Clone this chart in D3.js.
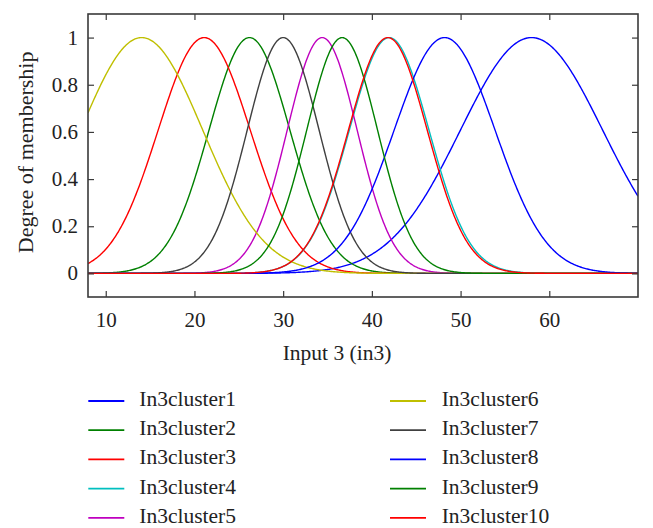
<!DOCTYPE html>
<html>
<head>
<meta charset="utf-8">
<script src="https://cdn.jsdelivr.net/npm/d3@7"></script>
<style>
  html, body { margin: 0; padding: 0; background: #fff; }
  svg { display: block; }
  text { font-family: "Liberation Serif", "DejaVu Serif", serif; fill: #222; }
</style>
</head>
<body>
<svg id="chart" width="653" height="528"></svg>
<script>
// ---- Data (Gaussian membership functions) ----
const seriesNames = ["In3cluster1","In3cluster2","In3cluster3","In3cluster4","In3cluster5",
                     "In3cluster6","In3cluster7","In3cluster8","In3cluster9","In3cluster10"];
const centers = [58.0, 26.2, 21.1, 41.95, 34.4, 14.05, 30.0, 48.2, 36.65, 41.8];
const sigmas  = [8.03, 4.57, 5.2, 4.5, 3.95, 6.9, 4.06, 5.7, 4.0, 4.45];
const colors  = ["#0000ff","#008000","#ff0000","#00bfbf","#bf00bf",
                 "#bfbf00","#404040","#0000ff","#008000","#ff0000"];
const xDomain = [8, 70];
const yDomain = [-0.1, 1.1];
const xTicks = [10, 20, 30, 40, 50, 60];
const yTicks = [0, 0.2, 0.4, 0.6, 0.8, 1];
const yTickLabels = ["0", "0.2", "0.4", "0.6", "0.8", "1"];
const xLabel = "Input 3 (in3)";
const yLabel = "Degree of membership";

// ---- Layout ----
const svg = d3.select("#chart");
const L = 88, R = 638, T = 14, B = 297;
const x = d3.scaleLinear().domain(xDomain).range([L, R]);
const y = d3.scaleLinear().domain(yDomain).range([B, T]);

const gauss = (v, c, s) => Math.exp(-((v - c) * (v - c)) / (2 * s * s));
const samples = d3.range(xDomain[0], xDomain[1] + 0.0001, 0.1);

svg.append("defs").append("clipPath").attr("id", "plotclip")
  .append("rect").attr("x", L).attr("y", T).attr("width", R - L).attr("height", B - T);

const line = d3.line().x(d => x(d[0])).y(d => y(d[1]));
const curves = svg.append("g").attr("clip-path", "url(#plotclip)");
seriesNames.forEach((name, i) => {
  const pts = samples.map(v => [v, gauss(v, centers[i], sigmas[i])]);
  curves.append("path")
    .attr("d", line(pts))
    .attr("fill", "none")
    .attr("stroke", colors[i])
    .attr("stroke-width", 1.4);
});

// ---- Frame and inward ticks ----
const frameColor = "#3a3a3a";
const tickLen = 6;
const axB = svg.append("g").attr("transform", `translate(0,${B})`)
  .call(d3.axisBottom(x).tickValues(xTicks).tickSizeInner(-tickLen).tickSizeOuter(0));
const axT = svg.append("g").attr("transform", `translate(0,${T})`)
  .call(d3.axisTop(x).tickValues(xTicks).tickSizeInner(-tickLen).tickSizeOuter(0).tickFormat(""));
const axL = svg.append("g").attr("transform", `translate(${L},0)`)
  .call(d3.axisLeft(y).tickValues(yTicks).tickSizeInner(-tickLen).tickSizeOuter(0)
        .tickFormat((d, i) => yTickLabels[i]));
const axR = svg.append("g").attr("transform", `translate(${R},0)`)
  .call(d3.axisRight(y).tickValues(yTicks).tickSizeInner(-tickLen).tickSizeOuter(0).tickFormat(""));

[axB, axT, axL, axR].forEach(g => {
  g.attr("font-family", null).attr("font-size", null);
  g.select(".domain").remove();
  g.selectAll(".tick line").attr("stroke", frameColor).attr("stroke-width", 1.2);
  g.selectAll("text").attr("font-size", 21).attr("fill", "#222");
});
axL.selectAll("text").attr("x", -10).attr("dy", null).attr("y", 6.5);
axB.selectAll("text").attr("dy", null).attr("y", 30);

svg.append("rect")
  .attr("x", L).attr("y", T).attr("width", R - L).attr("height", B - T)
  .attr("fill", "none").attr("stroke", frameColor).attr("stroke-width", 1.6);

// ---- Axis titles ----
svg.append("text")
  .attr("x", 337).attr("y", 360)
  .attr("text-anchor", "middle").attr("font-size", 21.5)
  .text(xLabel);
svg.append("text")
  .attr("transform", "translate(33,152.4) rotate(-90)")
  .attr("text-anchor", "middle").attr("font-size", 22)
  .text(yLabel);

// ---- Legend ----
const legend = svg.append("g");
const colLineX = [88.3, 390];
const colTextX = [139.3, 441.7];
const rowY0 = 401, rowStep = 29.2;
seriesNames.forEach((name, i) => {
  const col = Math.floor(i / 5), row = i % 5;
  const gy = rowY0 + row * rowStep;
  legend.append("line")
    .attr("x1", colLineX[col]).attr("x2", colLineX[col] + 36).attr("y1", gy).attr("y2", gy)
    .attr("stroke", colors[i]).attr("stroke-width", 1.8);
  legend.append("text")
    .attr("x", colTextX[col]).attr("y", gy + 5)
    .attr("font-size", 21.5)
    .text(name);
});
</script>
</body>
</html>
